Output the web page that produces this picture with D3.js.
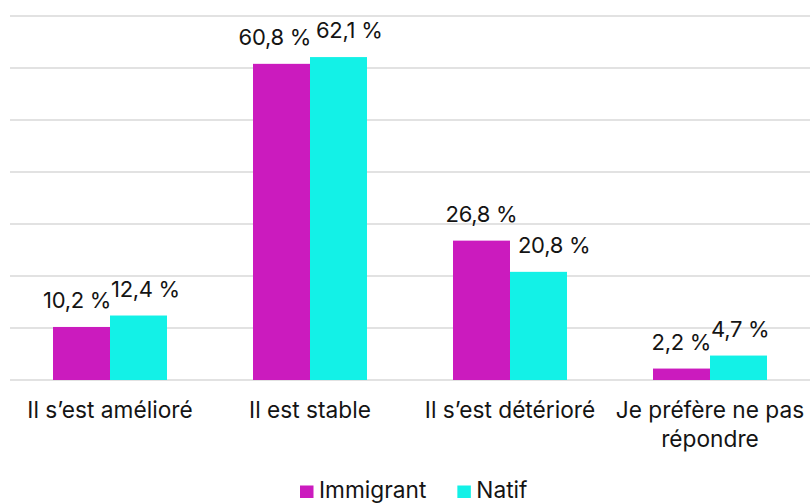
<!DOCTYPE html>
<html><head><meta charset="utf-8">
<script src="https://cdn.jsdelivr.net/npm/d3@7"></script>
<style>body{margin:0;background:#fff}svg{display:block}text{font-family:Inter,"Noto Sans",sans-serif;fill:#141414}</style>
</head><body><svg id="c" width="810" height="504"></svg>
<script>
const categories = [["Il s’est amélioré"], ["Il est stable"], ["Il s’est détérioré"], ["Je préfère ne pas", "répondre"]];
const seriesNames = ["Immigrant", "Natif"];
const immigrant = [10.2, 60.8, 26.8, 2.2];
const natif = [12.4, 62.1, 20.8, 4.7];
const yTicks = [0, 10, 20, 30, 40, 50, 60, 70];
const colors = ["#CB1BBE", "#13F1E7"];
const fmt = v => v.toFixed(1).replace(".", ",") + " %";

(function () {
const svg = d3.select("#c");
const mLeft = 10, mRight = 810, mTop = 16, mBottom = 380;
const x = d3.scaleBand().domain(d3.range(categories.length)).range([mLeft, mRight]).paddingInner(0).paddingOuter(0);
const y = d3.scaleLinear().domain([0, 70]).range([mBottom, mTop]);
const barW = 57;
const xs = d3.scaleBand().domain([0, 1]).range([0, barW * 2]);

svg.append("g").selectAll("line").data(yTicks).join("line")
  .attr("x1", mLeft).attr("x2", mRight)
  .attr("y1", d => y(d)).attr("y2", d => y(d))
  .attr("stroke", "#d9d9d9").attr("stroke-width", 1.4);

const series = [immigrant, natif];
const gBars = svg.append("g");
series.forEach((vals, s) => {
  gBars.selectAll(null).data(vals).join("rect")
    .attr("x", (d, i) => x(i) + x.bandwidth() / 2 - barW + xs(s))
    .attr("width", barW)
    .attr("y", d => y(d))
    .attr("height", d => mBottom - y(d))
    .attr("fill", colors[s]);
});

const fs = 22;
const gL = svg.append("g").attr("font-size", fs).attr("letter-spacing", -0.3);
categories.forEach((c, i) => {
  const cx = x(i) + x.bandwidth() / 2;
  const t0 = gL.append("text").attr("text-anchor", "middle").text(fmt(immigrant[i]))
    .attr("x", cx - barW / 2).attr("y", y(immigrant[i]) - 19);
  const t1 = gL.append("text").attr("text-anchor", "middle").text(fmt(natif[i]))
    .attr("x", cx + barW / 2).attr("y", y(natif[i]) - 19);
  const b0 = t0.node().getBBox(), b1 = t1.node().getBBox();
  const capH = fs * 0.72;
  const nBottom = y(natif[i]) - 19, iBottom = y(immigrant[i]) - 19;
  if (b1.x < cx && nBottom > y(immigrant[i])) {
    t1.attr("text-anchor", "start").attr("x", cx + 8);
  } else if (b0.x + b0.width > b1.x && Math.abs(nBottom - iBottom) < capH + 2) {
    t0.attr("text-anchor", "end").attr("x", cx + 1);
    t1.attr("text-anchor", "start").attr("x", cx + (i === 1 ? 6 : 1));
  }
});

const fc = 22.7;
const gC = svg.append("g").attr("font-size", fc).attr("text-anchor", "middle");
categories.forEach((lines, i) => {
  const t = gC.append("text").attr("x", x(i) + x.bandwidth() / 2).attr("y", 418);
  lines.forEach((ln, k) => t.append("tspan").attr("x", x(i) + x.bandwidth() / 2).attr("dy", k ? 29 : 0).text(ln));
});

const lg = svg.append("g").attr("font-size", fc);
let lx = 300;
seriesNames.forEach((n, s) => {
  lg.append("rect").attr("x", lx).attr("y", 485.5).attr("width", 13.5).attr("height", 12.5).attr("fill", colors[s]);
  const t = lg.append("text").attr("x", lx + 19).attr("y", 498).text(n);
  lx += 19 + t.node().getComputedTextLength() + 31;
});
})();
</script></body></html>
